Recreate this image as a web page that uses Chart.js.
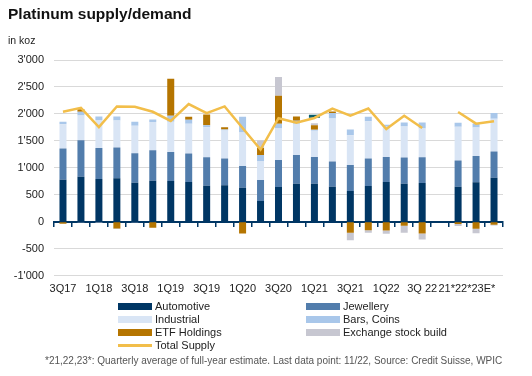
<!DOCTYPE html>
<html>
<head>
<meta charset="utf-8">
<script src="https://cdn.jsdelivr.net/npm/chart.js@4.4.0/dist/chart.umd.min.js"></script>
<style>
    body { margin: 0; background: #fff; font-family: "Liberation Sans", Arial, sans-serif; color: #222; }
    #wrap { position: relative; width: 532px; height: 376px; overflow: hidden; }
    #chart { position: absolute; left: 0; top: 0; }
    .title { position: absolute; left: 8px; top: 6px; font-size: 15.5px; font-weight: bold; line-height: 1; color: #111; }
    .unit { position: absolute; left: 8px; top: 35px; font-size: 10.5px; line-height: 1; color: #222; }
    .lg { position: absolute; font-size: 11px; line-height: 1; color: #222; white-space: nowrap; }
    .lg i { position: absolute; left: -37px; top: 2px; width: 34px; height: 7px; }
    .note { position: absolute; left: 45px; top: 356px; font-size: 10px; line-height: 1; color: #555; white-space: nowrap; }
</style>
</head>
<body>
<div id="wrap">
    <canvas id="chart" width="532" height="376"></canvas>
    <div class="title">Platinum supply/demand</div>
    <div class="unit">in koz</div>
    <div id="legend"></div>
    <div class="note">*21,22,23*: Quarterly average of full-year estimate. Last data point: 11/22, Source: Credit Suisse, WPIC</div>
</div>
<script>
const categories = ['3Q17', '4Q17', '1Q18', '2Q18', '3Q18', '4Q18', '1Q19', '2Q19', '3Q19', '4Q19',
    '1Q20', '2Q20', '3Q20', '4Q20', '1Q21', '2Q21', '3Q21', '4Q21', '1Q22', '2Q22', '3Q 22', '',
    '21*', '22*', '23E*'];

// tick text shown under the axis (every second quarter, one combined label for the estimates)
const tickLabels = ['3Q17', '', '1Q18', '', '3Q18', '', '1Q19', '', '3Q19', '', '1Q20', '', '3Q20', '',
    '1Q21', '', '3Q21', '', '1Q22', '', '3Q 22', '', '', '21*22*23E*\u00a0\u00a0\u00a0\u00a0\u00a0\u00a0', ''];

const automotive = [781, 837, 794, 806, 725, 763, 756, 738, 670, 676, 632, 384, 645, 707, 707, 651, 570, 663, 738, 707, 719, null, 651, 732, 818];
const jewellery = [577, 676, 576, 570, 546, 564, 540, 527, 527, 496, 403, 391, 502, 533, 496, 465, 484, 509, 465, 487, 478, null, 484, 489, 484];
const industrial = [452, 459, 509, 503, 508, 521, 558, 552, 558, 521, 620, 353, 583, 577, 483, 800, 552, 694, 558, 573, 533, null, 626, 527, 608];
const barsCoins = [44, 68, 74, 74, 75, 49, 111, 74, 37, 18, 292, 112, 87, 55, 19, 99, 105, 81, 40, 74, 111, null, 74, 75, 105];
const etfHoldings = [-37, 45, 0, -124, 0, -112, 689, 56, 198, 44, -217, 130, 520, 81, 87, 31, -205, -155, -161, -74, -217, null, -43, -130, -56];
const exchangeStock = [0, -15, -18, -10, -12, 0, 0, 0, 0, 0, 0, 137, 348, 0, 37, 0, -136, -50, -62, -131, -112, null, -37, -81, -12];
const totalSupply = [2040, 2114, 1755, 2139, 2133, 2040, 1870, 2182, 2015, 2139, 1740, 1340, 1920, 1835, 1925, 2100, 1970, 2100, 1720, 1965, 1740, null, 2035, 1820, 1865];
const marker = [null, null, null, null, null, null, null, null, null, null, null, null, null, null, 1955, null, null, null, null, null, null, null, null, null, null];

const yTicks = [-1000, -500, 0, 500, 1000, 1500, 2000, 2500, 3000];

const navy = '#003664';
const font = { family: '"Liberation Sans", Arial, sans-serif', size: 11 };

function bar(label, data, color) {
    return {
        type: 'bar', label: label, data: data, backgroundColor: color, borderWidth: 0,
        stack: 'supply', order: 1, barPercentage: 0.39, categoryPercentage: 1
    };
}

const datasets = [
    bar('Automotive', automotive, navy),
    bar('Jewellery', jewellery, '#527dac'),
    bar('Industrial', industrial, '#d9e5f5'),
    bar('Bars, Coins', barsCoins, '#a9c7ea'),
    bar('ETF Holdings', etfHoldings, '#b57500'),
    bar('Exchange stock build', exchangeStock, '#c7c7d1'),
    {
        type: 'line', label: 'Total Supply', data: totalSupply, borderColor: '#f2be4a',
        borderWidth: 2.5, pointRadius: 0, tension: 0, spanGaps: false, stack: 'total', order: 0
    },
    {
        type: 'line', label: 'marker', data: marker, showLine: false, pointStyle: 'line',
        pointRadius: 5.5, borderColor: '#0b5f6b', pointBorderWidth: 3, stack: 'marker', order: 0
    }
];

// html legend, two columns like the original
const legendSlots = [
    [0, 155, 301], [1, 343, 301], [2, 155, 314], [3, 343, 314],
    [4, 155, 327], [5, 343, 327], [6, 155, 340]
];
const legendEl = document.getElementById('legend');
legendSlots.forEach(function (s) {
    const ds = datasets[s[0]];
    const item = document.createElement('div');
    item.className = 'lg';
    item.style.left = s[1] + 'px';
    item.style.top = s[2] + 'px';
    const sw = document.createElement('i');
    if (ds.type === 'line') {
        sw.style.background = ds.borderColor;
        sw.style.height = '3px';
        sw.style.top = '4px';
    } else {
        sw.style.background = ds.backgroundColor;
    }
    item.appendChild(sw);
    item.appendChild(document.createTextNode(ds.label));
    legendEl.appendChild(item);
});

function fmt(v) {
    const s = String(Math.abs(v)).replace(/\B(?=(\d{3})+(?!\d))/g, "'");
    return (v < 0 ? '-' : '') + s;
}

new Chart(document.getElementById('chart'), {
    type: 'bar',
    data: { labels: categories, datasets: datasets },
    options: {
        responsive: false,
        animation: false,
        layout: { padding: { left: 0, right: 29, top: 60, bottom: 0 } },
        plugins: { legend: { display: false }, tooltip: { enabled: false } },
        scales: {
            x: {
                stacked: true,
                offset: true,
                grid: { display: false, drawTicks: false },
                border: { display: false },
                ticks: {
                    autoSkip: false, maxRotation: 0, minRotation: 0, padding: 7,
                    color: '#222', font: font,
                    callback: function (v, i) { return tickLabels[i]; }
                },
                afterFit: function (scale) { scale.height = 100.3; }
            },
            x0: {
                type: 'category',
                axis: 'x',
                position: { y: 0 },
                offset: true,
                grid: { display: true, offset: true, drawOnChartArea: false, drawTicks: true, tickLength: 4, color: navy, lineWidth: 1.5 },
                border: { display: true, color: navy, width: 2 },
                ticks: { display: false }
            },
            y: {
                stacked: true,
                min: -1000,
                max: 3000,
                afterBuildTicks: function (scale) { scale.ticks = yTicks.map(v => ({ value: v })); },
                grid: { color: '#d9d9d9', lineWidth: 1, drawTicks: false },
                border: { display: false },
                ticks: { padding: 10, color: '#222', font: font, callback: v => fmt(v) },
                afterFit: function (scale) { scale.width = 54; }
            }
        }
    }
});
</script>
</body>
</html>
